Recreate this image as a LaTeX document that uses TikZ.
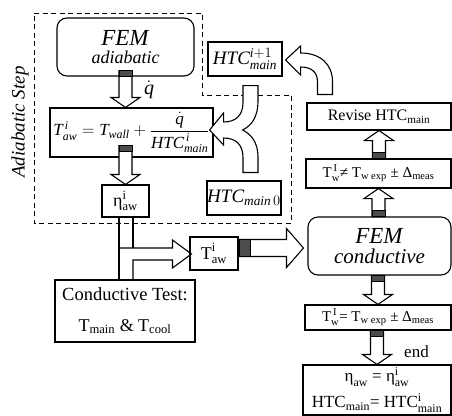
\documentclass[tikz,border=0pt]{standalone}
\usepackage{amsmath}
\usepackage{fontspec}
\setmainfont{Liberation Serif}
\usetikzlibrary{calc}
\newcommand{\fs}[1]{\fontsize{#1}{#1}\selectfont}
\tikzset{
	box/.style={draw, line width=1.1pt, inner sep=0pt, align=center},
	rbox/.style={box, rounded corners=10pt},
	blk/.style={draw, line width=1.1pt, fill=white, line join=miter},
	bar/.style={draw, line width=1pt, fill=black!70},
	frame/.style={draw, line width=1pt, dashed, dash pattern=on 5pt off 3.5pt},
}
\newcommand{\vblk}[2]{%
	\draw[blk] let \p1=#1, \p2=#2, \n1={sign(\y1-\y2)} in
		(\x2-6.5pt,\y1) -- (\x2-6.5pt,\y2+\n1*10pt) -- (\x2-14.5pt,\y2+\n1*10pt) -- (\x2,\y2)
		-- (\x2+14.5pt,\y2+\n1*10pt) -- (\x2+6.5pt,\y2+\n1*10pt) -- (\x2+6.5pt,\y1) -- cycle;
	\filldraw[bar] let \p1=#1, \p2=#2, \n1={sign(\y1-\y2)} in
		(\x2-6.5pt,\y1) rectangle (\x2+6.5pt,\y1-\n1*6pt);
}
\begin{document}
\begin{tikzpicture}[x=1pt,y=-1pt]
	\useasboundingbox (0,0) rectangle (452,415);
	\draw[frame] (34,13) -- (202,13) -- (202,95) -- (291,95) -- (291,223) -- (34,223) -- cycle;
	\node[rotate=90] (step) at (20,122) {\fs{19}\textit{Adiabatic Step}};

	\node[rbox, minimum width=137, minimum height=58] (fema) at (125.5,47) {{\fs{23}\textit{FEM}}\\[4pt]{\fs{18}\textit{adiabatic}}};
	\node[box, minimum width=163, minimum height=49] (form) at (131.5,132.5) {\fs{17}$\textit{T}^{\,\textit{i}}_{\textit{aw}} = \textit{T}_{\textit{wall}} + \dfrac{\dot{\textit{q}}}{\textit{HTC}^{\,\textit{i}}_{\textit{main}}}$};
	\node[box, minimum width=47, minimum height=32] (eta) at (125.5,201) {\fs{18}$\text{η}^{\text{i}}_{\text{aw}}$};
	\node[box, minimum width=74, minimum height=34] (htcn) at (245,59) {\fs{19}$\textit{HTC}^{\textit{i}+1}_{\textit{main}}$};
	\node[box, minimum width=74, minimum height=34] (htc0) at (244,198) {\fs{19}$\textit{HTC}_{\textit{main}\,0}$};
	\node[box, minimum width=48, minimum height=33] (tae) at (214,253.5) {\fs{18}$\text{T}^{\text{i}}_{\text{aw}}$};
	\node[box, minimum width=140, minimum height=62] (cond) at (125,311) {{\fs{18.5}Conductive Test:}\\[17pt]{\fs{18}$\text{T}_{\text{main}}\text{ \& T}_{\text{cool}}$}};

	\node[box, minimum width=144, minimum height=27] (revise) at (379,116.5) {\fs{16}$\text{Revise HTC}_{\text{main}}$};
	\node[box, minimum width=145, minimum height=29] (tne) at (378.5,173.5) {\fs{15}$\text{T}_{\text{w}}^{\,\text{I}}\text{≠ T}_{\text{w exp}}\text{ ± Δ}_{\text{meas}}$};
	\node[rbox, minimum width=143, minimum height=58] (femc) at (379.5,246) {{\fs{23}\textit{FEM}}\\[5pt]{\fs{21}\textit{conductive}}};
	\node[box, minimum width=146, minimum height=25] (teq) at (378,317.5) {\fs{15}$\text{T}_{\text{w}}^{\,\text{I}}\text{= T}_{\text{w exp}}\text{ ± Δ}_{\text{meas}}$};
	\node[box, minimum width=148, minimum height=50] (res) at (377,390) {{\fs{17}$\text{η}_{\text{aw}}\text{ = η}^{\text{i}}_{\text{aw}}$}\\[6pt]{\fs{17}$\text{HTC}_{\text{main}}\text{= HTC}^{\text{i}}_{\text{main}}$}};

	\vblk{($(fema.south)+(0,-6)$)}{(fema.south |- form.north)}
	\node[inner sep=0pt] (qd) at (149,90) {\fs{20}$\dot{\textit{q}}$};
	\vblk{($(eta.north |- form.south)+(0,-12)$)}{(eta.north)}
	\vblk{(femc.north)}{(tne.south)}
	\vblk{(tne.north)}{(revise.south)}
	\vblk{(femc.south)}{(teq.north)}
	\vblk{(teq.south)}{(res.north)}
	\node[anchor=base west, inner sep=0pt] (endl) at (404,357) {\fs{17}end};

	\draw[blk] let \p1=(tae.east), \p2=($(femc.west)+(-4,2)$) in
		(\x1,\y2+8.5pt) -- (\x2-17pt,\y2+8.5pt) -- (\x2-17pt,\y2+19.5pt) -- (\x2,\y2)
		-- (\x2-17pt,\y2-19.5pt) -- (\x2-17pt,\y2-8.5pt) -- (\x1,\y2-8.5pt) -- cycle;
	\filldraw[bar] let \p1=(tae.east), \p2=($(femc.west)+(-4,2)$) in
		(\x1+1pt,\y2-8.5pt) rectangle (\x1+12pt,\y2+8.5pt);

	\draw[blk] ($(revise.north west)+(11,-8)$) -- ($(revise.north west)+(11,-21)$)
		.. controls ($(revise.north west)+(11,-31)$) and ($(htcn.east)+(28,8)$) .. ($(htcn.east)+(18,8)$)
		-- ($(htcn.east)+(18,16)$) -- ($(htcn.east)+(3,1)$) -- ($(htcn.east)+(18,-13)$) -- ($(htcn.east)+(18,-6)$)
		.. controls ($(htcn.east)+(38,-6)$) and ($(revise.north west)+(26,-38)$) .. ($(revise.north west)+(26,-21)$)
		-- ($(revise.north west)+(26,-8)$) -- cycle;

	\coordinate (tip) at ($(form.east)+(-4,-2.5)$);
	\draw[blk] ($(htcn.south)+(-2,9)$) -- ($(htcn.south)+(13,9)$) -- ($(htcn.south)+(13,24)$)
		.. controls ($(htcn.south)+(13,42)$) and ($(tip)+(41,-4)$) .. ($(tip)+(33,0)$)
		.. controls ($(tip)+(41,4)$) and ($(htc0.north)+(14,-39)$) .. ($(htc0.north)+(14,-23)$)
		-- ($(htc0.north)+(14,-8)$) -- ($(htc0.north)+(-1,-8)$) -- ($(htc0.north)+(-1,-23)$)
		.. controls ($(htc0.north)+(-1,-36)$) and ($(tip)+(26,8)$) .. ($(tip)+(14,8)$)
		-- ($(tip)+(14,15)$) -- (tip) -- ($(tip)+(14,-17)$) -- ($(tip)+(14,-8)$)
		.. controls ($(tip)+(26,-8)$) and ($(htcn.south)+(-2,39)$) .. ($(htcn.south)+(-2,26)$) -- cycle;

	\coordinate (l) at ($(eta.south)+(-6.5,0)$);
	\coordinate (r) at ($(eta.south)+(7.5,0)$);
	\draw[line width=1.1pt] (l) -- (l |- cond.north);
	\draw[line width=1.1pt] (r) -- ($(r |- tae.west)+(0,-5.5)$);
	\draw[line width=1.1pt, line join=miter] ($(l |- tae.west)+(0,-5.5)$) -- ($(tae.west)+(-17,-5.5)$) -- ($(tae.west)+(-17,-13.5)$)
		-- ($(tae.west)+(2,0.5)$) -- ($(tae.west)+(-17,14.5)$) -- ($(tae.west)+(-17,6.5)$)
		-- ($(r |- tae.west)+(0,6.5)$) -- (r |- cond.north);
\end{tikzpicture}
\end{document}
